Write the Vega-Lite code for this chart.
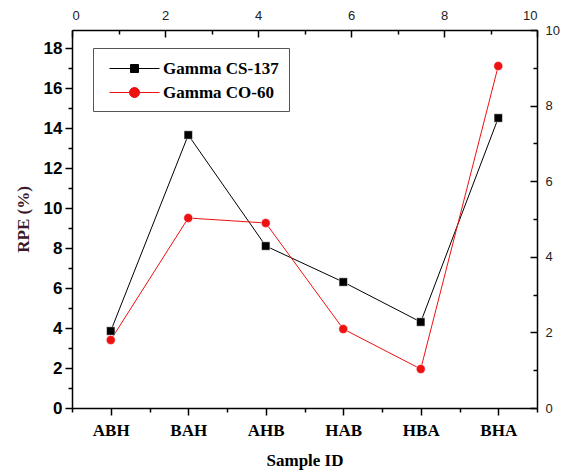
{
  "$schema": "https://vega.github.io/schema/vega-lite/v6.json",
  "width": 465,
  "height": 378,
  "autosize": "none",
  "padding": {"left": 72, "top": 30, "right": 30, "bottom": 66},
  "background": "white",
  "config": {
    "view": {"stroke": null},
    "axis": {"domainColor": "black", "domainWidth": 1.5, "tickColor": "black", "tickWidth": 1.5, "grid": false}
  },
  "data": {
    "values": [
      {"id": "ABH", "series": "Gamma CS-137", "rpe": 3.85},
      {"id": "BAH", "series": "Gamma CS-137", "rpe": 13.65},
      {"id": "AHB", "series": "Gamma CS-137", "rpe": 8.1},
      {"id": "HAB", "series": "Gamma CS-137", "rpe": 6.3},
      {"id": "HBA", "series": "Gamma CS-137", "rpe": 4.3},
      {"id": "BHA", "series": "Gamma CS-137", "rpe": 14.5},
      {"id": "ABH", "series": "Gamma CO-60", "rpe": 3.4},
      {"id": "BAH", "series": "Gamma CO-60", "rpe": 9.5},
      {"id": "AHB", "series": "Gamma CO-60", "rpe": 9.25},
      {"id": "HAB", "series": "Gamma CO-60", "rpe": 3.95},
      {"id": "HBA", "series": "Gamma CO-60", "rpe": 1.95},
      {"id": "BHA", "series": "Gamma CO-60", "rpe": 17.1}
    ]
  },
  "layer": [
    {
      "encoding": {
        "x": {
          "field": "id", "type": "nominal", "sort": null,
          "scale": {"paddingInner": 0, "paddingOuter": 0},
          "axis": {
            "orient": "bottom", "title": "Sample ID", "labelAngle": 0,
            "labelFont": "Liberation Serif", "labelFontWeight": "bold", "labelFontSize": 17, "labelColor": "black",
            "labelPadding": 7, "tickSize": 7,
            "titleFont": "Liberation Serif", "titleFontWeight": "bold", "titleFontSize": 17, "titleColor": "black", "titlePadding": 14
          }
        },
        "y": {
          "field": "rpe", "type": "quantitative",
          "scale": {"domain": [0, 18.9], "nice": false, "zero": true},
          "axis": {
            "orient": "left", "title": "RPE (%)",
            "values": [0,1,2,3,4,5,6,7,8,9,10,11,12,13,14,15,16,17,18],
            "labelExpr": "datum.value % 2 == 0 ? datum.label : ''",
            "tickSize": {"condition": {"test": "datum.value % 2 == 0", "value": 7}, "value": 4},
            "labelFont": "Liberation Sans", "labelFontWeight": "bold", "labelFontSize": 17, "labelColor": "black",
            "labelPadding": 3,
            "titleFont": "Liberation Serif", "titleFontWeight": "bold", "titleFontSize": 17, "titleColor": "#3a1a2a", "titlePadding": 11
          }
        },
        "color": {
          "field": "series", "type": "nominal", "sort": ["Gamma CS-137", "Gamma CO-60"],
          "scale": {"domain": ["Gamma CS-137", "Gamma CO-60"], "range": ["black", "#ee1111"]},
          "legend": {
            "title": null,
            "orient": "none",
            "legendX": 21, "legendY": 18,
            "direction": "vertical",
            "strokeColor": "#555555",
            "padding": 10,
            "rowPadding": 5,
            "symbolSize": 400,
            "symbolOffset": 21,
            "symbolStrokeWidth": 1,
            "labelFont": "Liberation Serif", "labelFontWeight": "bold", "labelFontSize": 17, "labelColor": "black",
            "labelOffset": 18,
            "encode": {
              "symbols": {
                "update": {
                  "shape": {"signal": "datum.value == 'Gamma CS-137' ? 'M-2.5,0L2.5,0M-0.4,-0.4L0.4,-0.4L0.4,0.4L-0.4,0.4Z' : 'M-2.5,0L2.5,0M-0.5,0A0.5,0.5 0 1,0 0.5,0A0.5,0.5 0 1,0 -0.5,0Z'"},
                  "fill": {"signal": "datum.value == 'Gamma CS-137' ? 'black' : '#ee1111'"},
                  "stroke": {"signal": "datum.value == 'Gamma CS-137' ? 'black' : '#ee1111'"},
                  "strokeWidth": {"value": 1},
                  "opacity": {"value": 1},
                  "fillOpacity": {"value": 1},
                  "strokeOpacity": {"value": 1}
                }
              }
            }
          }
        }
      },
      "layer": [
        {"mark": {"type": "line", "strokeWidth": 1}},
        {
          "transform": [{"filter": "datum.series == 'Gamma CS-137'"}],
          "mark": {"type": "point", "shape": "square", "filled": true, "opacity": 1, "stroke": "white", "strokeWidth": 0.5, "size": 70}
        },
        {
          "transform": [{"filter": "datum.series == 'Gamma CO-60'"}],
          "mark": {"type": "point", "shape": "circle", "filled": true, "opacity": 1, "stroke": "white", "strokeWidth": 0.5, "size": 80}
        }
      ]
    },
    {
      "mark": {"type": "point", "opacity": 0},
      "encoding": {
        "x": {
          "datum": 0, "type": "quantitative",
          "scale": {"domain": [0, 10], "nice": false},
          "axis": {
            "orient": "top", "title": null,
            "values": [0,1,2,3,4,5,6,7,8,9,10],
            "labelExpr": "datum.value % 2 == 0 ? datum.label : ''",
            "tickSize": {"condition": {"test": "datum.value % 2 == 0", "value": -7}, "value": -4},
            "labelFont": "Liberation Sans", "labelFontSize": 13, "labelColor": "#222222", "labelPadding": 15
          }
        },
        "y": {
          "datum": 0, "type": "quantitative",
          "scale": {"domain": [0, 10], "nice": false},
          "axis": {
            "orient": "right", "title": null,
            "values": [0,1,2,3,4,5,6,7,8,9,10],
            "labelExpr": "datum.value % 2 == 0 ? datum.label : ''",
            "tickSize": {"condition": {"test": "datum.value % 2 == 0", "value": -7}, "value": -4},
            "labelFont": "Liberation Sans", "labelFontSize": 13, "labelColor": "#222222", "labelPadding": 15
          }
        }
      }
    },
    {
      "mark": {"type": "point", "opacity": 0},
      "encoding": {
        "x": {
          "field": "id", "type": "nominal", "sort": null,
          "scale": {"paddingInner": 0, "paddingOuter": 0},
          "axis": {
            "orient": "bottom", "title": null, "labels": false, "domain": false,
            "tickBand": "extent", "tickSize": 4
          }
        }
      }
    }
  ],
  "resolve": {"scale": {"x": "independent", "y": "independent"}}
}
